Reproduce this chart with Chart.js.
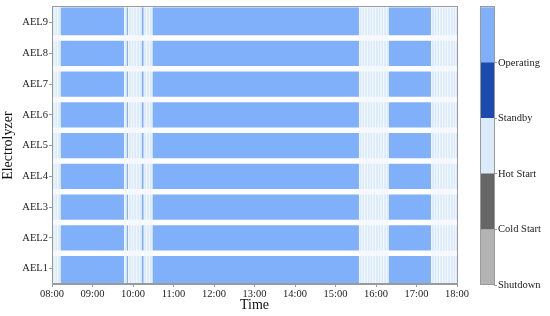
<!DOCTYPE html>
<html>
<head>
<meta charset="utf-8">
<script src="https://cdn.jsdelivr.net/npm/chart.js@4.4.1/dist/chart.umd.min.js"></script>
<style>
  html, body { margin: 0; padding: 0; background: #fff; }
  #wrap { position: relative; width: 550px; height: 316px; }
  #main { position: absolute; left: 0; top: 0; }
  #cbar { position: absolute; left: 470px; top: 0; }
</style>
</head>
<body>
<div id="wrap">
  <canvas id="main" width="550" height="316"></canvas>
  <canvas id="cbar" width="80" height="316"></canvas>
</div>
<script>
// ---------------- DATA ----------------
const electrolyzers = ['AEL1','AEL2','AEL3','AEL4','AEL5','AEL6','AEL7','AEL8','AEL9'];
const stateNames = ['Shutdown','Cold Start','Hot Start','Standby','Operating'];
const stateColors = ['#b3b3b3','#666666','#dcebfc','#1c4bae','#80b0fa'];
const timeTicks = ['08:00','09:00','10:00','11:00','12:00','13:00','14:00','15:00','16:00','17:00','18:00'];
// schedule segments (same for every electrolyzer)
const segStart = ['08:00','08:13','09:47','09:51','09:53','10:13','10:16','10:29','15:35','16:19','17:22'];
const segEnd   = ['08:13','09:47','09:51','09:53','10:13','10:16','10:29','15:35','16:19','17:22','18:00'];
const segState = ['Hot Start','Operating','Hot Start','Operating','Hot Start','Operating','Hot Start','Operating','Hot Start','Operating','Hot Start'];
const schedules = electrolyzers.map(() => ({start: segStart, end: segEnd, state: segState}));

// ---------------- BUILD ----------------
const toMin = s => { const [h, m] = s.split(':').map(Number); return h * 60 + m; };
const fmt = v => String(Math.floor(v / 60)).padStart(2, '0') + ':' + String(v % 60).padStart(2, '0');
const CELL = 4; // minutes per displayed cell in transient states
const points = [];
electrolyzers.forEach((name, r) => {
  const s = schedules[r];
  s.start.forEach((st, i) => {
    const a = toMin(st), b = toMin(s.end[i]);
    const si = stateNames.indexOf(s.state[i]);
    if (s.state[i] === 'Hot Start') {
      for (let t = a; t < b; t += CELL) {
        points.push({x: [t, Math.min(b, t + CELL)], y: name, s: si, row: r, cell: true});
      }
    } else {
      points.push({x: [a, b], y: name, s: si, row: r, cell: false});
    }
  });
});

const SERIF = '"Liberation Serif", "DejaVu Serif", serif';
const AXC = '#9a9a9a';

const frame = {
  id: 'frame',
  afterDraw(chart) {
    const a = chart.chartArea, c = chart.ctx;
    c.save();
    c.strokeStyle = AXC; c.lineWidth = 1;
    c.strokeRect(Math.round(a.left) + 0.5, Math.round(a.top) - 0.5, Math.round(a.right - a.left), Math.round(a.bottom - a.top));
    c.restore();
  }
};

new Chart(document.getElementById('main'), {
  type: 'bar',
  data: {
    labels: electrolyzers,
    datasets: [{
      data: points,
      backgroundColor: ctx => stateColors[ctx.raw.s],
      borderColor: ctx => ctx.raw.cell ? '#f5f9ff' : '#ffffff',
      borderWidth: ctx => ({
        top: ctx.raw.row === electrolyzers.length - 1 ? 0 : 3,
        bottom: ctx.raw.row === 0 ? 0 : 3,
        left: ctx.raw.cell ? 1 : 0,
        right: 0
      }),
      borderSkipped: false,
      barPercentage: 1,
      categoryPercentage: 1
    }]
  },
  options: {
    indexAxis: 'y',
    responsive: false,
    animation: false,
    devicePixelRatio: 1,
    layout: { padding: { top: 5, right: 93, left: 0, bottom: 0 } },
    plugins: { legend: { display: false }, tooltip: { enabled: false } },
    scales: {
      x: {
        type: 'linear',
        min: toMin(timeTicks[0]),
        max: toMin(timeTicks[timeTicks.length - 1]),
        afterBuildTicks: sc => { sc.ticks = timeTicks.map(t => ({value: toMin(t)})); },
        ticks: { callback: v => fmt(v), color: '#222', font: { family: SERIF, size: 10.5 }, padding: 1, maxRotation: 0, autoSkip: false },
        grid: { drawOnChartArea: false, tickLength: 3, color: AXC },
        border: { color: AXC },
        title: { display: true, text: 'Time', color: '#111', font: { family: SERIF, size: 14 }, padding: { top: 0, bottom: 2 } },
        afterFit: sc => { sc.height = 32; }
      },
      y: {
        type: 'category',
        reverse: true,
        offset: true,
        ticks: { color: '#222', font: { family: SERIF, size: 10.5 }, padding: 1 },
        grid: { drawOnChartArea: false, tickLength: 3, color: AXC, offset: false },
        border: { color: AXC },
        title: { display: true, text: 'Electrolyzer', color: '#111', font: { family: SERIF, size: 14 }, padding: { top: 0, bottom: 6 } },
        afterFit: sc => { sc.width = 52; }
      }
    }
  },
  plugins: [frame]
});

// ---------------- COLOR BAR ----------------
new Chart(document.getElementById('cbar'), {
  type: 'bar',
  data: {
    labels: ['state'],
    datasets: stateNames.map((n, i) => ({
      label: n, data: [1], backgroundColor: stateColors[i],
      borderWidth: 0, barPercentage: 1, categoryPercentage: 1
    }))
  },
  options: {
    responsive: false,
    animation: false,
    devicePixelRatio: 1,
    layout: { padding: { top: 5, left: 10, right: 0, bottom: 31 } },
    plugins: { legend: { display: false }, tooltip: { enabled: false } },
    scales: {
      x: { stacked: true, display: false },
      y: {
        stacked: true,
        position: 'right',
        min: 0, max: stateNames.length,
        afterBuildTicks: sc => { sc.ticks = stateNames.map((n, i) => ({value: i})); },
        ticks: { callback: v => stateNames[v], color: '#222', font: { family: SERIF, size: 10.5 }, padding: 1 },
        grid: { drawOnChartArea: false, tickLength: 3, color: AXC },
        border: { color: AXC },
        afterFit: sc => { sc.width = 56; }
      }
    }
  },
  plugins: [frame]
});
</script>
</body>
</html>
